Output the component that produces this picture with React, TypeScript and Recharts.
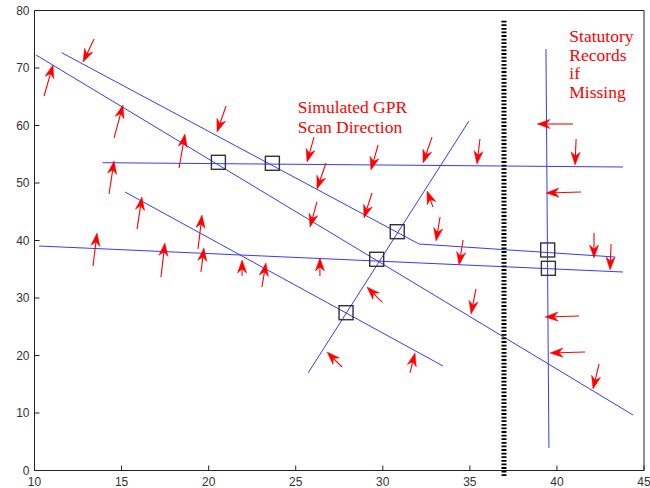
import React from 'react';
import { ComposedChart, Line, Scatter, XAxis, YAxis, ReferenceLine } from 'recharts';

const xTicks = [10, 15, 20, 25, 30, 35, 40, 45];
const yTicks = [0, 10, 20, 30, 40, 50, 60, 70, 80];

// simulated GPR scan lines (x, y)
const scanLine1 = [{ x: 11.56, y: 72.66 }, { x: 32.08, y: 39.39 }, { x: 43.34, y: 37.13 }];
const scanLine2 = [{ x: 10.09, y: 72.26 }, { x: 44.37, y: 9.65 }];
const scanLine3 = [{ x: 15.2, y: 48.43 }, { x: 33.46, y: 18.17 }];
const scanLine4 = [{ x: 13.92, y: 53.53 }, { x: 43.79, y: 52.78 }];
const scanLine5 = [{ x: 10.26, y: 39.04 }, { x: 43.79, y: 34.52 }];
const scanLine6 = [{ x: 25.71, y: 16.96 }, { x: 34.95, y: 60.78 }];
const scanLine7 = [{ x: 39.37, y: 73.3 }, { x: 39.54, y: 3.91 }];
const scanLines = [scanLine1, scanLine2, scanLine3, scanLine4, scanLine5, scanLine6, scanLine7];

// dotted boundary
const boundaryX = 36.96;
const boundaryTop = 78.23;
const boundaryBottom = -1.13;

// crossing markers
const crossings = [
  { x: 20.56, y: 53.6 },
  { x: 23.66, y: 53.43 },
  { x: 30.83, y: 41.53 },
  { x: 29.65, y: 36.73 },
  { x: 27.89, y: 27.44 },
  { x: 39.47, y: 38.35 },
  { x: 39.51, y: 35.16 },
];

// scan direction arrows: tail -> tip
const arrowTailX = [13.42, 10.55, 14.57, 21.0, 18.3, 14.28, 15.89, 13.36, 19.39, 17.26, 19.56, 21.92, 23.06, 26.39, 26.05, 29.73, 32.83, 26.74, 29.38, 26.22, 32.88, 33.29, 29.96, 27.66, 31.56, 40.92, 35.58, 41.1, 41.38, 34.61, 42.13, 43.11, 35.35, 41.27, 41.61, 42.42];
const arrowTailY = [75.04, 65.13, 57.83, 63.39, 52.61, 48.09, 41.99, 35.57, 38.52, 33.65, 34.52, 33.83, 31.91, 33.83, 57.99, 56.61, 57.99, 53.48, 48.26, 46.7, 45.83, 44.09, 29.3, 18.0, 16.96, 60.26, 57.65, 57.65, 48.43, 40.09, 41.3, 39.39, 31.57, 26.87, 20.61, 18.52];
const arrowTipX = [12.79, 11.06, 15.08, 20.48, 18.64, 14.57, 16.17, 13.59, 19.62, 17.49, 19.73, 21.92, 23.29, 26.39, 25.65, 29.32, 32.31, 26.22, 28.92, 25.82, 32.54, 33.06, 29.09, 26.8, 31.85, 38.86, 35.41, 41.04, 39.37, 34.38, 42.13, 43.05, 35.07, 39.32, 39.6, 42.07];
const arrowTipY = [71.04, 70.52, 63.57, 58.87, 58.52, 53.83, 47.57, 41.3, 44.43, 39.57, 38.7, 36.61, 36.09, 36.96, 53.65, 52.26, 53.48, 48.96, 43.91, 42.35, 48.61, 39.91, 31.91, 20.61, 20.43, 60.26, 53.3, 53.13, 48.26, 35.74, 36.96, 34.87, 27.22, 26.7, 20.43, 14.17];

const gprLabel = ['Simulated GPR', 'Scan Direction'];
const statLabel = ['Statutory', 'Records', 'if', 'Missing'];

const RED = '#ff0000';
const BLUE = '#3838ff';

const ArrowShape = (props: any) => {
  const { x1, y1, x2, y2 } = props;
  const dx = x2 - x1;
  const dy = y2 - y1;
  const len = Math.hypot(dx, dy) || 1;
  const ux = dx / len;
  const uy = dy / len;
  const nx = -uy;
  const ny = ux;
  const L = 13;
  const W = 4.6;
  const N = 4;
  const bx = x2 - L * ux;
  const by = y2 - L * uy;
  const mx = x2 - (L - N) * ux;
  const my = y2 - (L - N) * uy;
  const pts = [
    [x2, y2],
    [bx + W * nx, by + W * ny],
    [mx, my],
    [bx - W * nx, by - W * ny],
  ]
    .map((p) => p.join(','))
    .join(' ');
  return (
    <g>
      <line x1={x1} y1={y1} x2={mx} y2={my} stroke={RED} strokeWidth={1.1} />
      <polygon points={pts} fill={RED} stroke={RED} strokeWidth={0.5} />
    </g>
  );
};

const SquareShape = (props: any) => {
  const { cx, cy } = props;
  return <rect x={cx - 7} y={cy - 7} width={14} height={14} fill="none" stroke="#333" strokeWidth={1.4} />;
};

const tickStyle = { fill: '#333', fontSize: 12, fontFamily: 'Liberation Sans, Arial, sans-serif' };

export default function App() {
  return (
    <div style={{ position: 'absolute', left: 0, top: 0, background: '#fff' }}>
      <ComposedChart width={650} height={488} margin={{ top: 10.5, right: 6, bottom: 0, left: 0 }}>
        <XAxis
          dataKey="x"
          type="number"
          domain={[10, 45]}
          ticks={xTicks}
          interval={0}
          height={17.5}
          tickSize={-5}
          tickMargin={12}
          axisLine={{ stroke: '#222' }}
          tickLine={{ stroke: '#222' }}
          tick={tickStyle}
        />
        <XAxis
          xAxisId="top"
          orientation="top"
          mirror
          dataKey="x"
          type="number"
          domain={[10, 45]}
          ticks={xTicks}
          interval={0}
          tickSize={5}
          tick={false}
          axisLine={{ stroke: '#222' }}
          tickLine={{ stroke: '#222' }}
        />
        <YAxis
          type="number"
          domain={[0, 80]}
          ticks={yTicks}
          interval={0}
          width={34.5}
          tickSize={-5}
          tickMargin={10}
          axisLine={{ stroke: '#222' }}
          tickLine={{ stroke: '#222' }}
          tick={tickStyle}
        />
        <YAxis
          yAxisId="right"
          orientation="right"
          mirror
          type="number"
          domain={[0, 80]}
          ticks={yTicks}
          interval={0}
          tickSize={5}
          tick={false}
          axisLine={{ stroke: '#222' }}
          tickLine={{ stroke: '#222' }}
        />
        {scanLines.map((d, i) => (
          <Line
            key={'scan' + i}
            data={d}
            dataKey="y"
            stroke={BLUE}
            strokeWidth={1}
            dot={false}
            activeDot={false}
            isAnimationActive={false}
          />
        ))}
        <ReferenceLine
          segment={[
            { x: boundaryX, y: boundaryTop },
            { x: boundaryX, y: boundaryBottom },
          ]}
          stroke="#000"
          strokeWidth={5}
          strokeDasharray="1.8 1.8"
          ifOverflow="visible"
        />
        {arrowTailX.map((tx, i) => (
          <ReferenceLine
            key={'arrow' + i}
            segment={[
              { x: tx, y: arrowTailY[i] },
              { x: arrowTipX[i], y: arrowTipY[i] },
            ]}
            shape={ArrowShape}
            ifOverflow="visible"
          />
        ))}
        <Scatter data={crossings} dataKey="y" shape={SquareShape} isAnimationActive={false} />
        <text fill={RED} fontFamily="Liberation Serif, Times New Roman, serif" fontSize={17.5}>
          {gprLabel.map((t, i) => (
            <tspan key={t} x={297.7} y={113 + i * 20.3}>
              {t}
            </tspan>
          ))}
        </text>
        <text fill={RED} fontFamily="Liberation Serif, Times New Roman, serif" fontSize={17.5}>
          {statLabel.map((t, i) => (
            <tspan key={t} x={569.3} y={42.3 + i * 18.5}>
              {t}
            </tspan>
          ))}
        </text>
      </ComposedChart>
    </div>
  );
}
